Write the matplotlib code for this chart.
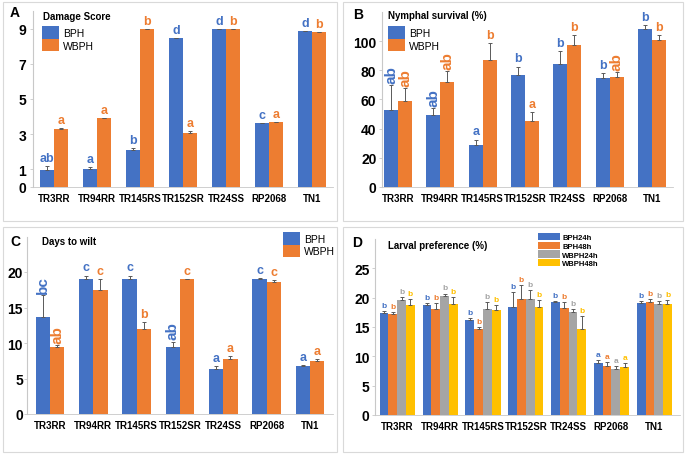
import numpy as np
import matplotlib
matplotlib.use("Agg")
import matplotlib.pyplot as plt
from matplotlib.patches import Rectangle

plt.rcParams['font.family'] = ['Liberation Sans', 'DejaVu Sans']

cultivars = ["TR3RR", "TR94RR", "TR145RS", "TR152SR", "TR24SS", "RP2068", "TN1"]

# A: damage score
dmg_bph = [0.95, 1.05, 2.1, 8.45, 9.0, 3.65, 8.85]
dmg_bph_err = [0.25, 0.1, 0.1, 0.0, 0.0, 0.0, 0.0]
dmg_wbph = [3.3, 3.9, 9.0, 3.05, 9.0, 3.7, 8.8]
dmg_wbph_err = [0.05, 0.0, 0.0, 0.15, 0.0, 0.0, 0.0]
dmg_bph_let = ["ab", "a", "b", "d", "d", "c", "d"]
dmg_wbph_let = ["a", "a", "b", "a", "b", "a", "b"]

# B: nymphal survival
nym_bph = [53, 49, 29, 77, 84, 75, 108]
nym_bph_err = [17, 5, 3.5, 5.5, 9, 3, 3]
nym_wbph = [59, 72, 87, 45, 97.5, 75.5, 101]
nym_wbph_err = [9, 7.5, 11.5, 6.5, 6.5, 3, 3]
nym_bph_let = ["ab", "ab", "a", "b", "b", "b", "b"]
nym_wbph_let = ["ab", "ab", "b", "a", "b", "ab", "b"]

# C: days to wilt
wilt_bph = [13.7, 19.0, 19.0, 9.4, 6.4, 19.0, 6.7]
wilt_bph_err = [3.1, 0.5, 0.5, 0.8, 0.3, 0.15, 0.15]
wilt_wbph = [9.4, 17.4, 12.0, 19.0, 7.7, 18.6, 7.5]
wilt_wbph_err = [0.3, 1.6, 1.0, 0.05, 0.4, 0.3, 0.2]
wilt_bph_let = ["bc", "c", "c", "ab", "a", "c", "a"]
wilt_wbph_let = ["ab", "c", "b", "c", "a", "c", "a"]

# D: larval preference
pref_series = ["BPH24h", "BPH48h", "WBPH24h", "WBPH48h"]
pref_vals = [
    [17.4, 18.7, 16.2, 18.4, 19.3, 8.9, 19.1],
    [17.3, 18.1, 14.7, 19.7, 18.2, 8.4, 19.3],
    [19.6, 20.3, 18.0, 19.7, 17.6, 7.9, 18.9],
    [18.8, 18.9, 17.9, 18.4, 14.6, 8.2, 18.9],
]
pref_err = [
    [0.3, 0.4, 0.4, 2.5, 0.1, 0.4, 0.4],
    [0.2, 1.0, 0.3, 2.4, 1.1, 0.6, 0.5],
    [0.5, 0.4, 1.3, 1.6, 0.5, 0.5, 0.6],
    [1.0, 1.2, 0.8, 1.2, 2.2, 0.6, 0.7],
]
pref_let = ["b", "b", "b", "b", "b", "a", "b"]

BLUE = "#4472C4"
ORANGE = "#ED7D31"
GRAY = "#A5A5A5"
YELLOW = "#FFC000"
AX_GRAY = "#c8c8c8"
ERR = dict(ecolor="#595959", elinewidth=0.7, capsize=1.5, capthick=0.7)

W, H = 685, 456
fig = plt.figure(figsize=(6.85, 4.56), dpi=100)


def px_axes(left, right, bottom, top):
    return fig.add_axes([left / W, 1 - bottom / H, (right - left) / W, (bottom - top) / H])


def box(x0, y0, x1, y1):
    fig.patches.append(Rectangle((x0 / W, 1 - y1 / H), (x1 - x0) / W, (y1 - y0) / H,
                                 transform=fig.transFigure, fill=False,
                                 edgecolor="#d9d9d9", lw=0.8))


def style(ax, yticks, ylim, xlim, pad):
    ax.set_xlim(*xlim)
    ax.set_ylim(*ylim)
    ax.set_yticks(yticks)
    ax.set_xticks(range(len(cultivars)))
    ax.set_xticklabels(cultivars, fontsize=7, fontweight="bold")
    for s in ["top", "right"]:
        ax.spines[s].set_visible(False)
    ax.spines["left"].set_color(AX_GRAY)
    ax.spines["bottom"].set_color(AX_GRAY)
    ax.spines["left"].set_linewidth(0.8)
    ax.spines["bottom"].set_linewidth(0.6)
    ax.tick_params(axis="y", colors=AX_GRAY, labelcolor="black", length=2, width=0.6,
                   labelsize=10, pad=pad)
    ax.tick_params(axis="x", length=0, pad=4)
    for t in ax.get_yticklabels():
        t.set_fontweight("bold")
    ax.set_facecolor("none")


def letters(ax, xs, tops, labs, color, rot_set=(), size=9, rot_size=11):
    for x, t, lab in zip(xs, tops, labs):
        rot = 90 if lab in rot_set else 0
        ax.annotate(lab, (x, t), xytext=(0, 1.5), textcoords="offset points",
                    ha="center", va="bottom", color=color,
                    fontsize=rot_size if rot else size,
                    fontweight="bold", rotation=rot)


def pair_panel(ax, bph, bph_err, wbph, wbph_err, bl, wl, rot_set=()):
    x = np.arange(len(cultivars))
    w = 0.33
    ax.bar(x - w / 2, bph, w, color=BLUE, label="BPH",
           yerr=[np.zeros(7), bph_err], error_kw=ERR)
    ax.bar(x + w / 2, wbph, w, color=ORANGE, label="WBPH",
           yerr=[np.zeros(7), wbph_err], error_kw=ERR)
    letters(ax, x - w / 2, np.array(bph) + np.array(bph_err), bl, BLUE, rot_set)
    letters(ax, x + w / 2, np.array(wbph) + np.array(wbph_err), wl, ORANGE, rot_set)


def pair_legend(ax, anchor, loc):
    leg = ax.legend(loc=loc, bbox_to_anchor=anchor, frameon=False,
                    fontsize=7.5, handlelength=1.6, handleheight=1.5,
                    labelspacing=0, handletextpad=0.4, borderaxespad=0, borderpad=0)
    return leg


# panel boxes
box(3, 3, 337, 222)
box(343, 3, 683, 222)
box(3, 228, 337, 453)
box(343, 228, 683, 453)

# A
axA = px_axes(33, 333, 188, 12)
pair_panel(axA, dmg_bph, dmg_bph_err, dmg_wbph, dmg_wbph_err, dmg_bph_let, dmg_wbph_let)
style(axA, [0, 1, 3, 5, 7, 9], (0, 10), (-0.49, 6.49), pad=3)
pair_legend(axA, ((42 - 33) / 300, (188 - 27) / 176), "upper left")
fig.text(43 / W, 1 - 17 / H, "Damage Score", fontsize=7, fontweight="bold", va="center")
fig.text(10 / W, 1 - 13 / H, "A", fontsize=10, fontweight="bold", va="center")

# B
axB = px_axes(382, 673, 188, 12.8)
pair_panel(axB, nym_bph, nym_bph_err, nym_wbph, nym_wbph_err, nym_bph_let, nym_wbph_let,
           rot_set=("ab",))
style(axB, [0, 20, 40, 60, 80, 100], (0, 120), (-0.38, 6.5), pad=2)
pair_legend(axB, ((388 - 382) / 291, (188 - 27) / 175.2), "upper left")
fig.text(388 / W, 1 - 16 / H, "Nymphal survival (%)", fontsize=7, fontweight="bold", va="center")
fig.text(353 / W, 1 - 15 / H, "B", fontsize=10, fontweight="bold", va="center")

# C
axC = px_axes(27, 333, 415, 237.5)
pair_panel(axC, wilt_bph, wilt_bph_err, wilt_wbph, wilt_wbph_err, wilt_bph_let, wilt_wbph_let,
           rot_set=("ab", "bc"))
style(axC, [0, 5, 10, 15, 20], (0, 25), (-0.53, 6.53), pad=1)
pair_legend(axC, ((283 - 27) / 306, (415 - 233) / 177.5), "upper left")
fig.text(42 / W, 1 - 242 / H, "Days to wilt", fontsize=7, fontweight="bold", va="center")
fig.text(10 / W, 1 - 242 / H, "C", fontsize=10, fontweight="bold", va="center")

# D
axD = px_axes(375, 680, 416, 240)
xd = np.arange(len(cultivars))
wd = 0.205
pcols = [BLUE, ORANGE, GRAY, YELLOW]
for i, (name, vals, err, col) in enumerate(zip(pref_series, pref_vals, pref_err, pcols)):
    pos = xd + (i - 1.5) * wd
    axD.bar(pos, vals, wd, color=col, label=name, yerr=[np.zeros(7), err], error_kw=ERR)
    letters(axD, pos, np.array(vals) + np.array(err), pref_let, col, size=6)
style(axD, [0, 5, 10, 15, 20, 25], (0, 30), (-0.52, 6.6), pad=2)
legD = axD.legend(loc="upper left", bbox_to_anchor=((538 - 375) / 305, (416 - 234) / 176),
                  frameon=False, fontsize=5.5, handlelength=2.9, handleheight=1.1,
                  labelspacing=0.05, handletextpad=0.3, borderaxespad=0, borderpad=0)
for t in legD.get_texts():
    t.set_fontweight("bold")
fig.text(388 / W, 1 - 246 / H, "Larval preference (%)", fontsize=7, fontweight="bold", va="center")
fig.text(352 / W, 1 - 243 / H, "D", fontsize=10, fontweight="bold", va="center")

fig.savefig("out.png", dpi=100, facecolor="white")
